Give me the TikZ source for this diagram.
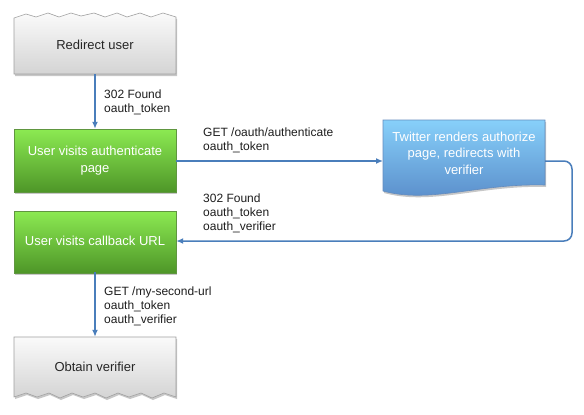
\documentclass[tikz,border=0pt]{standalone}
\usepackage{fontspec}
\setmainfont{Liberation Sans}
\usetikzlibrary{arrows.meta}
\definecolor{arrowc}{RGB}{74,126,187}
\definecolor{graytop}{RGB}{250,250,250}
\definecolor{graybot}{RGB}{212,212,212}
\definecolor{grayedge}{RGB}{160,160,160}
\definecolor{greentop}{RGB}{140,234,82}
\definecolor{greenbot}{RGB}{78,150,40}
\definecolor{greenedge}{RGB}{96,150,64}
\definecolor{bluetop}{RGB}{135,208,250}
\definecolor{bluebot}{RGB}{88,138,200}
\definecolor{blueedge}{RGB}{100,140,190}
\definecolor{labelc}{RGB}{30,30,30}
\tikzset{
  holder/.style={inner sep=0pt, minimum width=162pt, align=center, font=\fontsize{13}{16.5}\selectfont},
  lbl/.style={inner sep=0pt, anchor=north west, align=left, text=labelc, font=\fontsize{12}{14}\selectfont},
  conn/.style={draw=arrowc, line width=1.5pt, -{Latex[length=7pt,width=6pt]}},
  shadowc/.style={fill=black, opacity=0.22},
}
\begin{document}
\begin{tikzpicture}[x=1pt,y=-1pt]
\fill[white] (0,0) rectangle (584,415);
% ---------- shapes ----------
% Redirect user (wavy top)
\def\topwave{(14,18) -- (26,14) -- (36,17) -- (48,13) -- (59,17) -- (71,13) -- (81,16) -- (94,13) -- (105,17) -- (117,13) -- (127,17) -- (140,13) -- (151,17) -- (163,13) -- (176,17) -- (176,74) -- (14,74) -- cycle}
\fill[shadowc, shift={(1,2)}] \topwave;
\shade[top color=graytop, bottom color=graybot, draw=grayedge, line width=0.6pt] \topwave;
% Auth page
\fill[shadowc] (15,131) rectangle (177,194);
\shade[top color=greentop, bottom color=greenbot, draw=greenedge, line width=0.6pt] (14,129) rectangle (176,192);
% Callback
\fill[shadowc] (15,213) rectangle (177,275);
\shade[top color=greentop, bottom color=greenbot, draw=greenedge, line width=0.6pt] (14,211) rectangle (176,273);
% Obtain verifier (wavy bottom)
\def\botwave{(14,337) -- (176,337) -- (176,397) -- (164,393) -- (152,398) -- (141,393) -- (129,397) -- (118,393) -- (106,398) -- (95,393) -- (83,397) -- (72,393) -- (60,398) -- (49,393) -- (37,397) -- (26,393) -- (14,397) -- cycle}
\fill[shadowc, shift={(1,2)}] \botwave;
\shade[top color=graytop, bottom color=graybot, draw=grayedge, line width=0.6pt] \botwave;
% Twitter document shape
\def\docshape{(383,120) -- (545,120) -- (545,185) .. controls (480,183) and (430,204) .. (383,191) -- cycle}
\fill[shadowc, shift={(1,2)}] \docshape;
\shade[top color=bluetop, bottom color=bluebot, draw=blueedge, line width=0.6pt] \docshape;
% ---------- nodes ----------
\node[holder, minimum height=58pt, text=black!85] (r) at (95,45) {Redirect user};
\node[holder, minimum height=63pt, text=white] (a) at (95,160.5) {User visits authenticate\\page};
\node[holder, minimum height=62pt, text=white] (c) at (95,241) {User visits callback URL};
\node[holder, minimum height=60pt, text=black!85] (o) at (95,367) {Obtain verifier};
\node[holder, text=white] (t) at (464,153) {Twitter renders authorize\\page, redirects with\\verifier};
\coordinate (tout) at (545,161);
\coordinate (twest) at (383,161);
\coordinate (bend) at (572,161);
% ---------- connectors ----------
\draw[conn] (r.south) -- (a.north);
\draw[conn] (a.east |- twest) -- (twest);
\draw[conn, rounded corners=8pt] (tout) -- (bend) |- (c.east);
\draw[conn] (c.south) -- (o.north);
% ---------- labels ----------
\node[lbl] (l1) at (104,90) {302 Found\\oauth\_token};
\node[lbl] (l2) at (203,128) {GET /oauth/authenticate\\oauth\_token};
\node[lbl] (l3) at (203,194) {302 Found\\oauth\_token\\oauth\_verifier};
\node[lbl] (l4) at (104,287) {GET /my-second-url\\oauth\_token\\oauth\_verifier};
\end{tikzpicture}
\end{document}
